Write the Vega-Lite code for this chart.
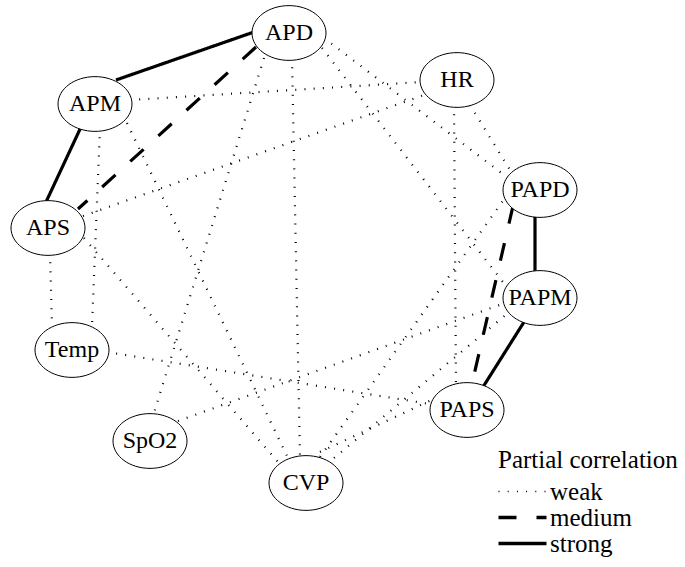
{
  "$schema": "https://vega.github.io/schema/vega-lite/v6.json",
  "width": 685,
  "height": 567,
  "padding": 0,
  "autosize": {"type": "none"},
  "background": "white",
  "config": {"view": {"stroke": null}},
  "datasets": {
    "nodes": [
      {"name": "APD", "x": 289, "y": 33},
      {"name": "APM", "x": 95, "y": 104},
      {"name": "APS", "x": 48, "y": 228},
      {"name": "HR", "x": 457, "y": 80},
      {"name": "PAPD", "x": 540, "y": 190},
      {"name": "PAPM", "x": 540, "y": 298},
      {"name": "PAPS", "x": 467, "y": 410},
      {"name": "Temp", "x": 72, "y": 350},
      {"name": "SpO2", "x": 150, "y": 441},
      {"name": "CVP", "x": 306, "y": 483}
    ],
    "edges": [
      {"from": "APD", "to": "APM", "strength": "strong", "x1": 254, "y1": 32, "x2": 116, "y2": 80},
      {"from": "APM", "to": "APS", "strength": "strong", "x1": 81, "y1": 127, "x2": 46, "y2": 202},
      {"from": "PAPD", "to": "PAPM", "strength": "strong", "x1": 535, "y1": 214, "x2": 535, "y2": 275},
      {"from": "PAPM", "to": "PAPS", "strength": "strong", "x1": 524, "y1": 322, "x2": 483, "y2": 387},
      {"from": "APD", "to": "APS", "strength": "medium", "x1": 256, "y1": 47, "x2": 78, "y2": 209},
      {"from": "PAPD", "to": "PAPS", "strength": "medium", "x1": 513, "y1": 206, "x2": 471, "y2": 388},
      {"from": "APD", "to": "PAPD", "strength": "weak", "x1": 324, "y1": 38, "x2": 508, "y2": 178},
      {"from": "APD", "to": "PAPM", "strength": "weak", "x1": 322, "y1": 48, "x2": 506, "y2": 286},
      {"from": "APD", "to": "CVP", "strength": "weak", "x1": 292, "y1": 58, "x2": 300, "y2": 458},
      {"from": "APD", "to": "SpO2", "strength": "weak", "x1": 264, "y1": 58, "x2": 153, "y2": 416},
      {"from": "APM", "to": "HR", "strength": "weak", "x1": 130, "y1": 100, "x2": 422, "y2": 82},
      {"from": "APM", "to": "Temp", "strength": "weak", "x1": 100, "y1": 128, "x2": 92, "y2": 326},
      {"from": "APM", "to": "CVP", "strength": "weak", "x1": 127, "y1": 123, "x2": 288, "y2": 458},
      {"from": "APS", "to": "HR", "strength": "weak", "x1": 83, "y1": 216, "x2": 424, "y2": 95},
      {"from": "APS", "to": "Temp", "strength": "weak", "x1": 50, "y1": 253, "x2": 52, "y2": 326},
      {"from": "APS", "to": "CVP", "strength": "weak", "x1": 84, "y1": 238, "x2": 278, "y2": 462},
      {"from": "HR", "to": "PAPD", "strength": "weak", "x1": 470, "y1": 105, "x2": 510, "y2": 170},
      {"from": "HR", "to": "PAPS", "strength": "weak", "x1": 454, "y1": 105, "x2": 456, "y2": 388},
      {"from": "Temp", "to": "PAPS", "strength": "weak", "x1": 107, "y1": 352, "x2": 436, "y2": 405},
      {"from": "SpO2", "to": "PAPM", "strength": "weak", "x1": 178, "y1": 421, "x2": 505, "y2": 303},
      {"from": "CVP", "to": "PAPS", "strength": "weak", "x1": 320, "y1": 452, "x2": 438, "y2": 397},
      {"from": "CVP", "to": "PAPM", "strength": "weak", "x1": 334, "y1": 458, "x2": 508, "y2": 313},
      {"from": "CVP", "to": "PAPD", "strength": "weak", "x1": 320, "y1": 457, "x2": 505, "y2": 198}
    ]
  },
  "layer": [
    {
      "data": {"name": "edges"},
      "mark": {"type": "rule", "color": "black"},
      "encoding": {
        "x": {"field": "x1", "type": "quantitative", "scale": {"domain": [0, 685], "nice": false, "zero": false}, "axis": null},
        "y": {"field": "y1", "type": "quantitative", "scale": {"domain": [0, 567], "nice": false, "zero": false, "reverse": true}, "axis": null},
        "x2": {"field": "x2"},
        "y2": {"field": "y2"},
        "strokeWidth": {"condition": {"test": "datum.strength === 'weak'", "value": 2.2}, "value": 3.2},
        "strokeDash": {
          "field": "strength",
          "type": "nominal",
          "scale": {"domain": ["weak", "medium", "strong"], "range": [[1, 8.2], [18, 20], [1, 0]]},
          "legend": {
            "title": "Partial correlation",
            "orient": "none",
            "legendX": 498,
            "legendY": 448,
            "padding": 0,
            "symbolType": "stroke",
            "symbolSize": 2304,
            "symbolStrokeColor": "black",
            "symbolOffset": 12,
            "rowPadding": -22,
            "labelOffset": 15,
            "titleFont": "Liberation Serif",
            "titleFontSize": 25,
            "titleFontWeight": "normal",
            "titleColor": "black",
            "titlePadding": 6,
            "labelFont": "Liberation Serif",
            "labelFontSize": 25,
            "labelColor": "black",
            "encode": {
              "symbols": {
                "update": {
                  "strokeDash": {"signal": "datum.value === 'medium' ? [13, 7] : (datum.value === 'weak' ? [1, 7] : [37, 60])"},
                  "strokeWidth": {"signal": "datum.value === 'weak' ? 1.6 : 3.5"},
                  "stroke": {"value": "black"}
                }
              }
            }
          }
        }
      }
    },
    {
      "data": {"name": "nodes"},
      "mark": {"type": "point", "shape": "M-1,0A1,0.74,0,1,0,1,0A1,0.74,0,1,0,-1,0Z", "filled": true, "fill": "white", "stroke": "black", "strokeWidth": 1, "opacity": 1, "size": 5476},
      "encoding": {
        "x": {"field": "x", "type": "quantitative"},
        "y": {"field": "y", "type": "quantitative"}
      }
    },
    {
      "data": {"name": "nodes"},
      "mark": {"type": "text", "font": "Liberation Serif", "fontSize": 24, "color": "black", "align": "center", "baseline": "middle"},
      "encoding": {
        "x": {"field": "x", "type": "quantitative"},
        "y": {"field": "y", "type": "quantitative"},
        "text": {"field": "name"}
      }
    }
  ]
}
